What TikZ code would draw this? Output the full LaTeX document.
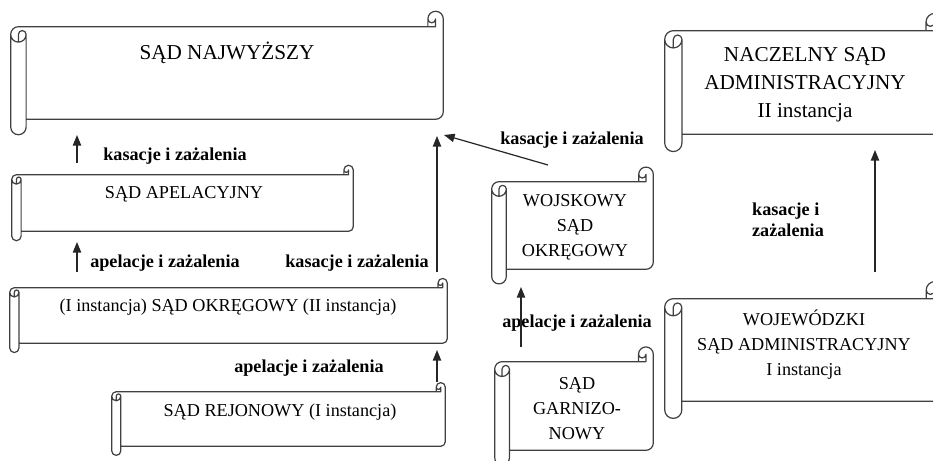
\documentclass[tikz,border=0pt]{standalone}
\usepackage{fontspec}
\setmainfont{Liberation Serif}
\usetikzlibrary{arrows.meta,calc,fit}
\tikzset{>=stealth}
\tikzset{
  scroll/.style={inner sep=0pt, draw=none},
  scrollline/.style={draw=black!75, line width=0.8pt, line join=round},
  title/.style={align=center, inner sep=0pt, font=\fontsize{12}{16.5}\selectfont},
  bigtitle/.style={align=center, inner sep=0pt, font=\fontsize{14}{18.5}\selectfont},
  lab/.style={inner sep=0pt, font=\bfseries\fontsize{12}{14}\selectfont},
  up/.style={-{Triangle[length=7pt,width=5.5pt]}, line width=0.8pt, black!85},
}
% scroll outline around a body node
\newcommand{\scrollframe}[1]{%
  \draw[scrollline] let \p1=(#1.north west), \p2=(#1.south east),
      \n1={(\y1-\y2)/6}, \n2={(\y1-\y2)/12}, \n3={(\y1-\y2)/24} in
    (\x1,\y1-\n2) arc[start angle=180, end angle=90, radius=\n2*1pt]
    -- (\x2-\n1,\y1) -- (\x2-\n1,\y1+\n2)
    arc[start angle=180, end angle=0, radius=\n2*1pt]
    -- (\x2,\y2+\n2) arc[start angle=0, end angle=-90, radius=\n2*1pt]
    -- (\x1+\n1,\y2) -- (\x1+\n1,\y2-\n2)
    arc[start angle=0, end angle=-180, radius=\n2*1pt] -- cycle
    (\x2-\n1,\y1) -- (\x2-\n2,\y1) -- (\x2-\n2,\y1+\n2)
    arc[start angle=0, end angle=-180, radius=\n3*1pt]
    (\x1+\n2,\y1-\n1) -- (\x1+\n2,\y1-\n2)
    arc[start angle=180, end angle=0, radius=\n3*1pt]
    arc[start angle=0, end angle=-180, radius=\n2*1pt]
    (\x1+\n1,\y1-\n2) -- (\x1+\n1,\y2);
}

\begin{document}
\begin{tikzpicture}[x=0.66pt, y=-0.66pt]
        \useasboundingbox (0,0) rectangle (933,461);
        \clip (0,0) rectangle (933,461);

        % Scroll bodies
        \node[scroll, fit={(11,27) (443,119)}] (sn) {};
        \node[scroll, fit={(12,175) (353,231)}] (sa) {};
        \node[scroll, fit={(10,288) (447,343)}] (so) {};
        \node[scroll, fit={(112,392) (445,446)}] (sr) {};
        \node[scroll, fit={(492,182) (653,269)}] (wso) {};
        \node[scroll, fit={(495,362) (653,450)}] (sg) {};
        \node[scroll, fit={(665,31) (943,134)}] (nsa) {};
        \node[scroll, fit={(665,299) (943,401)}] (wsa) {};
        \scrollframe{sn}
        \scrollframe{sa}
        \scrollframe{so}
        \scrollframe{sr}
        \scrollframe{wso}
        \scrollframe{sg}
        \scrollframe{nsa}
        \scrollframe{wsa}

        % Texts
        \node[bigtitle] (snt) at (227,53) {SĄD NAJWYŻSZY};
        \node[title] (sat) at (184,194) {SĄD APELACYJNY};
        \node[title] (sot) at (228,307) {(I instancja) SĄD OKRĘGOWY (II instancja)};
        \node[title] (srt) at (280,412) {SĄD REJONOWY (I instancja)};
        \node[title] (wsot) at (575,227) {WOJSKOWY\\SĄD\\OKRĘGOWY};
        \node[title] (sgt) at (577,409) {SĄD\\GARNIZO-\\NOWY};
        \node[bigtitle] (nsat) at (805,85) {NACZELNY SĄD\\ADMINISTRACYJNY\\II instancja};
        \node[title] (wsat) at (804,345) {WOJEWÓDZKI\\SĄD ADMINISTRACYJNY\\I instancja};

        % Labels
        \node[lab] (l1) at (175,156) {kasacje i zażalenia};
        \node[lab] (l2) at (165,263) {apelacje i zażalenia};
        \node[lab] (l3) at (357,263) {kasacje i zażalenia};
        \node[lab] (l4) at (309,368) {apelacje i zażalenia};
        \node[lab] (l5) at (572,140) {kasacje i zażalenia};
        \node[lab] (l6) at (577,323) {apelacje i zażalenia};
        \node[lab, align=left, font=\bfseries\fontsize{12}{13.5}\selectfont] (l7) at (788,220) {kasacje i\\zażalenia};

        % Arrows
        \coordinate (a1s) at (77,163);  \coordinate (a1e) at (77,135);
        \coordinate (a2s) at (77,272);  \coordinate (a2e) at (77,242);
        \coordinate (a3s) at (437,272); \coordinate (a3e) at (437,136);
        \coordinate (a4s) at (437,382); \coordinate (a4e) at (437,350);
        \coordinate (a5s) at (548,165); \coordinate (a5e) at (444,135);
        \coordinate (a6s) at (521,347); \coordinate (a6e) at (521,287);
        \coordinate (a7s) at (875,272); \coordinate (a7e) at (875,150);
        \draw[up] (a1s) -- (a1e);
        \draw[up] (a2s) -- (a2e);
        \draw[up] (a3s) -- (a3e);
        \draw[up] (a4s) -- (a4e);
        \draw[up] (a5s) -- (a5e);
        \draw[up] (a6s) -- (a6e);
        \draw[up] (a7s) -- (a7e);
      \end{tikzpicture}
\end{document}
